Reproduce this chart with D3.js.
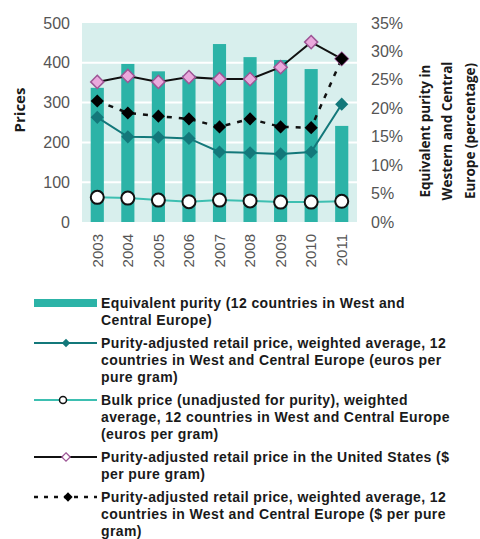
<!DOCTYPE html>
<html>
<head>
<meta charset="utf-8">
<script src="https://cdn.jsdelivr.net/npm/d3@7"></script>
<style>
  body { margin: 0; background: #fff; }
  svg { font-family: "Open Sans", "Noto Sans", sans-serif; }
  .legend text { font-family: "Liberation Sans", Arial, sans-serif; letter-spacing: 0.4px; }
</style>
</head>
<body>
<svg id="chart" width="480" height="539"></svg>
<script>
// values
const years = ['2003', '2004', '2005', '2006', '2007', '2008', '2009', '2010', '2011'];
const purityPct = [23.6, 27.8, 26.5, 25.8, 31.3, 29.0, 28.5, 26.9, 16.9];
const euroRetail = [263, 214, 213, 210, 176, 174, 171, 176, 296];
const bulkPrice = [62, 60, 55, 51, 55, 53, 50, 50, 52];
const usRetail = [352, 367, 352, 364, 359, 359, 389, 452, 410];
const euroRetailUsd = [304, 274, 266, 259, 239, 259, 239, 237, 410];
const priceTicks = [0, 100, 200, 300, 400, 500];
const pctTicks = [0, 5, 10, 15, 20, 25, 30, 35];

const legendItems = [
  { kind: 'bar', lines: ['Equivalent purity (12 countries in West and', 'Central Europe)'] },
  { kind: 'teal', lines: ['Purity-adjusted retail price, weighted average, 12', 'countries in West and Central Europe (euros per', 'pure gram)'] },
  { kind: 'bulk', lines: ['Bulk price (unadjusted for purity), weighted', 'average, 12 countries in West and Central Europe', '(euros per gram)'] },
  { kind: 'us', lines: ['Purity-adjusted retail price in the United States ($', 'per pure gram)'] },
  { kind: 'usd', lines: ['Purity-adjusted retail price, weighted average, 12', 'countries in West and Central Europe ($ per pure', 'gram)'] }
];

const C = {
  bg: '#d8efed', bar: '#2cb3a7', teal: '#13787a', bulk: '#3dbfb1',
  pinkFill: '#eaa9dd', pinkStroke: '#9d5595', text: '#555', dark: '#1a1a1a'
};

const svg = d3.select('#chart');
const pL = 82, pR = 357, pT = 23, pB = 222;

const x = d3.scaleBand().domain(years).range([pL, pR]).padding(0.57).paddingOuter(0.285);
const y = d3.scaleLinear().domain([0, 500]).range([pB, pT]);
const yPct = d3.scaleLinear().domain([0, 35]).range([pB, pT]);
const cx = d => x(d) + x.bandwidth() / 2;

// plot background + white grid
svg.append('rect').attr('x', pL).attr('y', pT).attr('width', pR - pL).attr('height', pB - pT).attr('fill', C.bg);
svg.append('g').selectAll('line').data(priceTicks.slice(1, -1)).join('line')
  .attr('x1', pL).attr('x2', pR).attr('y1', d => y(d)).attr('y2', d => y(d))
  .attr('stroke', '#fff').attr('stroke-width', 2);

// left axis
const yAxis = svg.append('g').attr('transform', `translate(${pL},0)`)
  .call(d3.axisLeft(y).tickValues(priceTicks).tickSize(0).tickPadding(12));
yAxis.select('.domain').remove();
yAxis.selectAll('text').attr('font-size', 16).attr('fill', C.text).style('font-family', null);

// right axis
const yAxisR = svg.append('g').attr('transform', `translate(${pR},0)`)
  .call(d3.axisRight(yPct).tickValues(pctTicks).tickSize(0).tickPadding(14).tickFormat(d => d + '%'));
yAxisR.select('.domain').remove();
yAxisR.selectAll('text').attr('font-size', 16).attr('fill', C.text).style('font-family', null);

// x axis
const xAxis = svg.append('g').attr('transform', `translate(0,${pB})`)
  .call(d3.axisBottom(x).tickSize(0));
xAxis.select('.domain').remove();
xAxis.selectAll('text').attr('font-size', 15).attr('fill', C.text).style('font-family', null)
  .attr('transform', 'rotate(-90)').attr('text-anchor', 'end')
  .attr('x', -12).attr('y', 0).attr('dy', '0.35em');

// axis titles
svg.append('text').attr('transform', 'translate(25,110) rotate(-90)')
  .attr('text-anchor', 'middle').attr('font-size', 15).attr('font-weight', 700).attr('fill', C.dark)
  .text('Prices');
['Equivalent purity in', 'Western and Central', 'Europe (percentage)'].forEach((t, i) => {
  svg.append('text').attr('transform', `translate(${425 + i * 22.5},131) rotate(-90)`)
    .attr('text-anchor', 'middle').attr('dy', '0.35em').attr('font-size', 13.5).attr('font-weight', 700).attr('fill', C.dark)
    .text(t);
});

// bars
svg.append('g').selectAll('rect').data(years).join('rect')
  .attr('x', d => x(d)).attr('width', x.bandwidth())
  .attr('y', (d, i) => yPct(purityPct[i])).attr('height', (d, i) => pB - yPct(purityPct[i]))
  .attr('fill', C.bar);

const line = d3.line().x((d, i) => cx(years[i])).y(d => y(d));
const diamond = d3.symbol().type(d3.symbolDiamond2).size(110);

// bulk price
svg.append('path').attr('d', line(bulkPrice)).attr('fill', 'none').attr('stroke', C.bulk).attr('stroke-width', 2);
// euro retail
svg.append('path').attr('d', line(euroRetail)).attr('fill', 'none').attr('stroke', C.teal).attr('stroke-width', 2);
// us retail
svg.append('path').attr('d', line(usRetail)).attr('fill', 'none').attr('stroke', '#111').attr('stroke-width', 2);
// euro retail in $
svg.append('path').attr('d', line(euroRetailUsd)).attr('fill', 'none').attr('stroke', '#111').attr('stroke-width', 2.5)
  .attr('stroke-dasharray', '5,7');

svg.append('g').selectAll('circle').data(bulkPrice).join('circle')
  .attr('cx', (d, i) => cx(years[i])).attr('cy', d => y(d)).attr('r', 6.5)
  .attr('fill', '#fff').attr('stroke', '#111').attr('stroke-width', 2);
svg.append('g').selectAll('path').data(euroRetail).join('path')
  .attr('transform', (d, i) => `translate(${cx(years[i])},${y(d)})`).attr('d', diamond).attr('fill', C.teal);
svg.append('g').selectAll('path').data(usRetail).join('path')
  .attr('transform', (d, i) => `translate(${cx(years[i])},${y(d)})`).attr('d', diamond)
  .attr('fill', C.pinkFill).attr('stroke', C.pinkStroke).attr('stroke-width', 1.5);
svg.append('g').selectAll('path').data(euroRetailUsd).join('path')
  .attr('transform', (d, i) => `translate(${cx(years[i])},${y(d)})`).attr('d', diamond).attr('fill', '#000');

// legend
const lg = svg.append('g').attr('class', 'legend');
const lineH = 17, groupGap = 6;
let ly = 303;
legendItems.forEach(item => {
  const g = lg.append('g').attr('transform', `translate(0,${ly})`);
  const sx0 = 34, sx1 = 97, smid = 66;
  if (item.kind === 'bar') {
    g.append('rect').attr('x', sx0).attr('y', -4).attr('width', sx1 - sx0).attr('height', 8).attr('fill', C.bar);
  } else if (item.kind === 'teal') {
    g.append('line').attr('x1', sx0).attr('x2', sx1).attr('stroke', C.teal).attr('stroke-width', 2);
    g.append('path').attr('transform', `translate(${smid},0)`).attr('d', d3.symbol().type(d3.symbolDiamond2).size(45)).attr('fill', C.teal);
  } else if (item.kind === 'bulk') {
    g.append('line').attr('x1', sx0).attr('x2', sx1).attr('stroke', C.bulk).attr('stroke-width', 2);
    g.append('circle').attr('cx', 63).attr('r', 3.5).attr('fill', '#fff').attr('stroke', '#111').attr('stroke-width', 1.5);
  } else if (item.kind === 'us') {
    g.append('line').attr('x1', sx0).attr('x2', sx1).attr('stroke', '#111').attr('stroke-width', 2);
    g.append('path').attr('transform', `translate(${smid},0)`).attr('d', d3.symbol().type(d3.symbolDiamond2).size(45))
      .attr('fill', '#fff').attr('stroke', C.pinkStroke).attr('stroke-width', 1.2);
  } else {
    g.append('line').attr('x1', sx0).attr('x2', sx1).attr('stroke', '#111').attr('stroke-width', 2.5).attr('stroke-dasharray', '4,6');
    g.append('path').attr('transform', `translate(${68},0)`).attr('d', d3.symbol().type(d3.symbolDiamond2).size(55)).attr('fill', '#000');
  }
  item.lines.forEach((t, j) => {
    g.append('text').attr('x', 101).attr('y', j * lineH).attr('dy', '0.35em')
      .attr('font-size', 14).attr('font-weight', 700).attr('fill', C.dark).text(t);
  });
  ly += item.lines.length * lineH + groupGap;
});
</script>
</body>
</html>
